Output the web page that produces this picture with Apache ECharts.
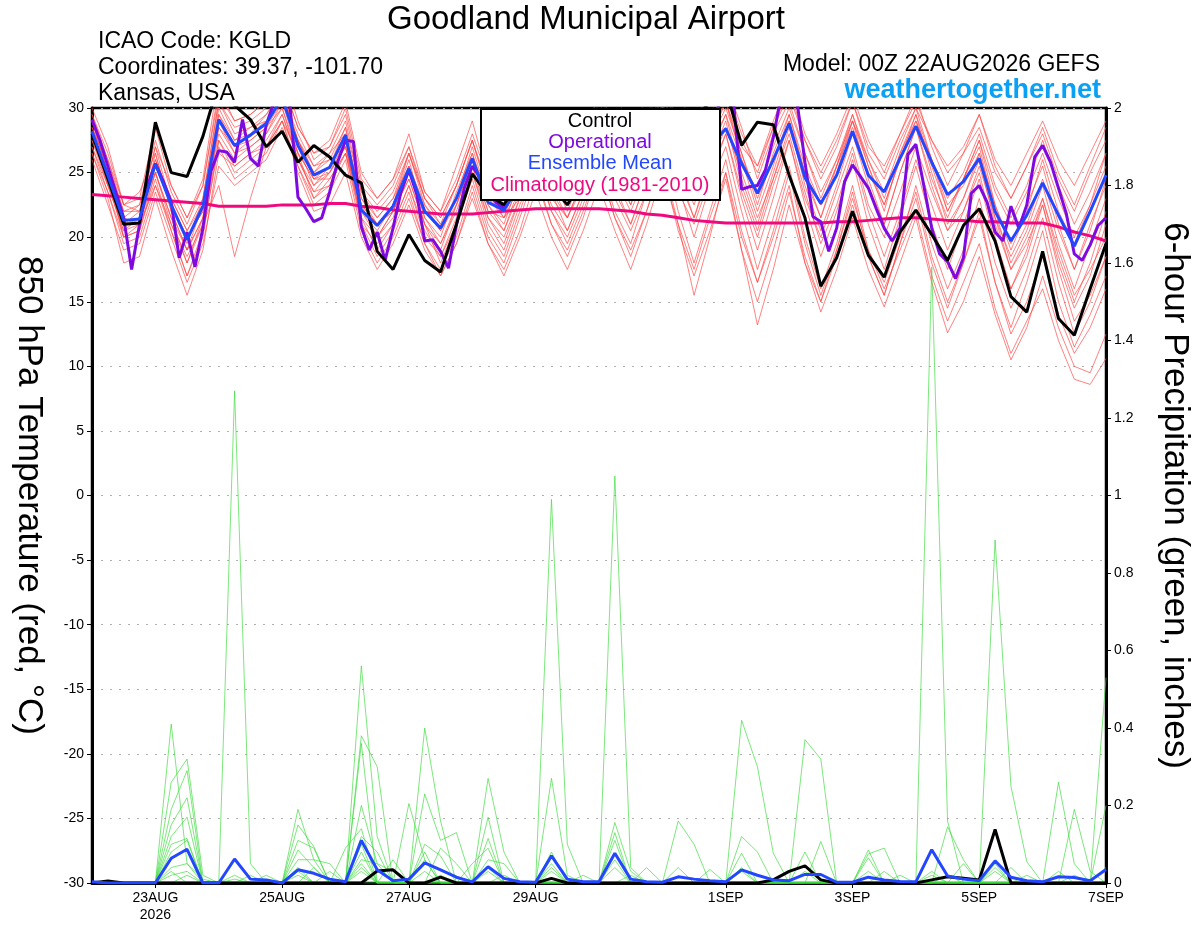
<!DOCTYPE html>
<html lang="en">
<head>
    <meta charset="UTF-8">
    <title>Goodland Municipal Airport</title>
    <script type="text/javascript" src="https://cdn.jsdelivr.net/npm/echarts@6.0.0/dist/echarts.min.js"></script>
    <style>
        html, body { margin: 0; padding: 0; background: #fff; }
        #chart { width: 1200px; height: 927px; }
    </style>
</head>
<body>
<div id="chart"></div>
<script>
    // x axis: forecast hour from 00Z 22AUG2026, 6-hourly (ensemble) or 3-hourly (operational)
    var tickHours = [24, 72, 120, 168, 240, 288, 336, 384];
    var tickLabels = ['23AUG\n2026', '25AUG', '27AUG', '29AUG', '1SEP', '3SEP', '5SEP', '7SEP'];

    // 850 hPa temperature, 6-hourly, 65 points
    var control = [
        28.0, 24.5, 21.0, 21.1, 28.9, 25.0, 24.7, 27.8,
        32.0, 30.2, 29.1, 27.0, 28.2, 25.8, 27.1, 26.2,
        24.8, 24.2, 18.9, 17.5, 20.2, 18.2, 17.3, 21.0,
        24.9, 23.3, 22.5, 24.5, 25.5, 24.0, 22.5, 24.5,
        25.5, 26.0, 25.0, 27.0, 28.0, 27.0, 29.0, 30.5,
        31.5, 27.1, 28.9, 28.7, 24.8, 21.5, 16.2, 18.4,
        22.0, 18.6, 16.9, 20.4, 22.1, 20.2, 18.2, 20.9,
        22.2, 19.7, 15.4, 14.2, 18.9, 13.7, 12.4, 16.0, 19.5
    ];
    var ensMean = [
        28.2, 24.8, 21.3, 21.4, 25.7, 22.5, 19.8, 22.4,
        29.1, 27.1, 27.9, 28.8, 30.8, 27.1, 24.8, 25.4,
        27.9, 22.1, 20.9, 22.4, 25.3, 22.0, 20.7, 23.0,
        26.1, 22.7, 22.1, 24.0, 26.5, 25.0, 24.0, 25.5,
        27.5, 26.5, 28.0, 27.0, 29.5, 27.5, 29.0, 27.0,
        28.4, 25.7, 23.4, 26.0, 28.8, 24.6, 22.6, 24.8,
        28.2, 24.8, 23.5, 26.1, 28.6, 25.8, 23.3, 24.3,
        26.1, 22.0, 19.7, 21.7, 24.2, 21.7, 19.3, 22.0, 24.8
    ];
    var climatology = [
        23.3, 23.2, 23.1, 23.0, 22.9, 22.8, 22.7, 22.6,
        22.4, 22.4, 22.4, 22.4, 22.5, 22.5, 22.5, 22.6,
        22.6, 22.4, 22.3, 22.1, 22.0, 21.9, 21.8, 21.8,
        21.8, 21.9, 22.0, 22.1, 22.2, 22.2, 22.2, 22.2,
        22.2, 22.1, 22.0, 21.8, 21.7, 21.5, 21.3, 21.2,
        21.1, 21.1, 21.1, 21.1, 21.1, 21.1, 21.1, 21.2,
        21.2, 21.3, 21.4, 21.5, 21.5, 21.4, 21.3, 21.3,
        21.2, 21.2, 21.1, 21.1, 21.1, 20.8, 20.4, 20.1, 19.7
    ];
    // operational run, 3-hourly, 129 points
    var operational = [
        29.1, 27.5, 25.5, 23.5, 21.5, 17.5, 21.0, 24.0,
        25.7, 24.3, 22.7, 18.4, 20.4, 17.7, 20.7, 25.1,
        26.7, 26.6, 25.8, 29.1, 26.1, 25.5, 28.7, 30.5,
        31.5, 30.2, 23.1, 22.2, 21.2, 21.5, 23.5, 25.8,
        27.5, 27.4, 20.8, 19.0, 20.4, 18.2, 20.7, 23.5,
        25.2, 23.3, 19.7, 19.8, 18.9, 17.6, 20.9, 23.8,
        25.5, 24.6, 23.3, 22.7, 22.2, 23.3, 24.5, 26.0,
        27.5, 28.5, 27.0, 25.0, 24.0, 25.0, 26.5, 28.0,
        29.5, 29.0, 27.5, 26.0, 25.0, 26.0, 27.5, 29.0,
        30.0, 29.5, 28.0, 26.5, 25.5, 27.0, 28.5, 30.0,
        31.5, 30.3, 23.7, 23.9, 24.0, 25.2, 27.7, 31.0,
        32.0, 30.5, 25.8, 21.6, 21.2, 18.9, 20.7, 24.3,
        25.6, 24.7, 23.8, 22.2, 20.7, 19.7, 20.7, 26.4,
        27.2, 24.0, 20.7, 18.7, 18.1, 16.8, 18.4, 23.4,
        24.0, 22.7, 20.4, 19.7, 22.4, 20.7, 22.5, 26.2,
        27.1, 25.8, 23.8, 21.8, 18.7, 18.2, 19.4, 20.9, 21.5
    ];

    // ensemble members, temperature
    var t01 = [
        29.5, 26.0, 22.0, 22.5, 27.5, 23.5, 21.0, 24.0,
        31.5, 29.0, 29.5, 30.5, 32.0, 28.5, 26.5, 27.0,
        29.5, 24.0, 22.5, 24.0, 27.0, 23.5, 22.0, 24.5,
        28.0, 24.5, 23.0, 26.0, 29.5, 27.5, 26.0, 28.0,
        31.0, 29.0, 31.5, 29.5, 32.0, 29.0, 31.5, 28.5,
        30.5, 27.0, 25.5, 28.5, 31.0, 27.5, 25.0, 27.5,
        30.5, 27.0, 25.5, 28.0, 30.5, 27.5, 25.0, 26.5,
        28.5, 25.0, 23.0, 25.5, 28.0, 24.5, 22.0, 25.0, 27.5
    ];
    var t02 = [
        27.0, 23.5, 19.5, 20.0, 24.0, 20.5, 17.0, 20.5,
        27.0, 24.5, 25.5, 26.5, 29.0, 25.0, 22.0, 22.5,
        25.0, 20.0, 17.5, 19.5, 22.5, 19.0, 17.0, 19.5,
        23.5, 19.5, 17.5, 20.5, 24.5, 21.0, 18.5, 21.5,
        25.5, 21.5, 18.5, 22.0, 26.0, 21.0, 17.5, 21.5,
        25.0, 20.0, 16.5, 20.5, 25.0, 19.5, 15.5, 19.0,
        23.5, 18.5, 15.5, 19.5, 23.0, 18.0, 14.5, 18.0,
        22.0, 16.5, 13.0, 16.5, 20.5, 15.0, 11.5, 14.0, 17.0
    ];
    var t03 = [
        28.5, 25.5, 21.0, 21.0, 26.5, 22.0, 19.0, 22.5,
        30.0, 27.5, 28.5, 29.5, 31.5, 27.0, 24.0, 25.5,
        28.5, 22.0, 20.5, 22.5, 26.0, 21.5, 20.0, 23.5,
        26.5, 22.5, 21.0, 24.5, 27.5, 24.5, 22.5, 26.0,
        28.5, 25.5, 22.5, 26.5, 30.0, 26.0, 23.5, 27.5,
        30.5, 26.5, 22.5, 26.5, 29.5, 25.0, 21.5, 25.0,
        29.0, 25.5, 22.0, 26.5, 29.0, 26.0, 22.5, 24.0,
        26.5, 21.5, 18.5, 21.0, 24.5, 20.5, 17.5, 21.0, 24.0
    ];
    var t04 = [
        28.0, 24.0, 20.5, 21.5, 25.5, 22.5, 20.0, 22.0,
        29.0, 26.5, 27.0, 28.0, 30.5, 26.5, 24.5, 25.0,
        27.0, 22.5, 21.0, 22.0, 24.5, 21.0, 19.5, 22.0,
        25.5, 22.0, 21.5, 23.0, 26.0, 23.5, 21.5, 24.0,
        27.0, 24.0, 21.0, 24.5, 28.0, 24.0, 20.0, 24.0,
        27.0, 22.0, 17.5, 21.5, 25.5, 20.0, 16.0, 19.5,
        24.0, 19.0, 16.0, 19.0, 22.0, 17.0, 13.5, 16.5,
        19.5, 14.5, 11.0, 13.5, 16.0, 12.0, 9.0, 8.6, 10.6
    ];
    var t05 = [
        29.0, 25.0, 21.5, 21.0, 26.0, 23.0, 20.5, 23.0,
        30.5, 28.0, 28.5, 29.0, 31.0, 28.0, 25.5, 26.5,
        28.0, 23.0, 21.5, 23.0, 26.5, 23.0, 21.5, 24.0,
        27.5, 24.0, 23.5, 25.0, 28.5, 26.0, 24.0, 26.5,
        29.5, 27.0, 25.0, 28.0, 31.0, 28.0, 25.5, 28.5,
        31.0, 27.5, 25.0, 28.5, 31.5, 27.5, 24.5, 27.0,
        30.5, 26.5, 24.5, 27.5, 30.0, 27.5, 25.5, 27.0,
        29.5, 26.0, 24.0, 26.5, 29.0, 26.0, 24.0, 26.5, 29.0
    ];
    var t06 = [
        27.5, 24.5, 21.0, 22.0, 25.0, 21.0, 18.5, 21.0,
        24.0, 18.5, 23.0, 27.0, 29.5, 26.0, 23.5, 24.0,
        26.5, 21.0, 19.5, 21.0, 24.0, 20.5, 18.5, 21.5,
        25.0, 21.0, 19.0, 22.5, 25.5, 22.0, 20.0, 23.0,
        26.5, 23.0, 20.5, 23.5, 27.5, 23.5, 21.0, 24.5,
        28.0, 23.5, 20.0, 24.0, 27.5, 23.0, 20.0, 23.5,
        27.0, 22.5, 20.0, 23.5, 27.0, 23.5, 20.5, 22.0,
        25.0, 20.0, 16.0, 18.5, 22.5, 18.0, 14.5, 17.0, 21.0
    ];
    var t07 = [
        26.0, 22.5, 19.0, 19.5, 23.5, 20.0, 16.5, 19.5,
        25.5, 24.0, 25.0, 26.0, 28.5, 25.5, 23.0, 24.5,
        26.5, 21.5, 20.0, 21.5, 25.0, 22.0, 20.5, 22.5,
        26.0, 22.0, 20.5, 24.0, 27.5, 24.0, 21.5, 24.5,
        28.5, 25.5, 23.0, 26.5, 30.5, 26.5, 23.0, 26.5,
        29.5, 24.5, 21.0, 25.0, 29.0, 24.0, 20.5, 24.0,
        28.0, 24.0, 21.0, 25.0, 28.5, 24.5, 21.5, 24.5,
        27.5, 22.5, 19.0, 22.0, 26.0, 22.0, 19.5, 22.5, 26.5
    ];
    var t08 = [
        29.5, 26.5, 22.5, 23.0, 28.5, 24.0, 21.5, 24.5,
        32.5, 30.0, 30.5, 31.0, 33.0, 29.0, 26.0, 27.0,
        30.0, 24.5, 23.0, 24.5, 28.0, 23.5, 22.0, 25.5,
        29.0, 24.5, 22.5, 25.5, 29.0, 25.5, 23.5, 27.0,
        30.5, 27.5, 24.0, 28.0, 31.5, 28.5, 25.5, 29.5,
        32.0, 28.5, 24.5, 28.0, 30.5, 26.5, 23.0, 26.0,
        29.0, 26.0, 23.0, 26.5, 29.5, 26.0, 22.0, 24.5,
        27.0, 22.0, 18.0, 20.5, 24.0, 19.5, 16.0, 19.5, 23.0
    ];
    var t09 = [
        28.0, 25.0, 20.0, 20.5, 25.0, 21.5, 18.0, 21.5,
        28.5, 26.5, 27.5, 28.5, 30.0, 26.5, 23.0, 24.0,
        27.5, 21.0, 18.5, 20.5, 23.5, 19.5, 17.5, 20.0,
        24.0, 20.0, 18.0, 21.5, 25.0, 21.0, 19.0, 22.0,
        25.5, 21.5, 19.0, 22.0, 25.5, 20.5, 17.0, 20.5,
        24.5, 19.0, 15.0, 19.0, 23.5, 18.5, 15.0, 18.5,
        22.5, 18.5, 15.5, 19.5, 24.0, 19.5, 16.0, 19.0,
        23.0, 18.0, 14.5, 17.5, 21.5, 16.5, 12.5, 15.0, 18.5
    ];
    var t10 = [
        27.5, 24.0, 21.5, 22.5, 26.0, 23.0, 20.5, 22.5,
        29.5, 27.5, 28.0, 29.0, 30.5, 27.5, 25.5, 26.0,
        28.5, 23.5, 21.5, 23.0, 25.5, 22.5, 21.0, 23.0,
        26.5, 23.0, 22.0, 25.0, 28.0, 25.0, 23.0, 25.5,
        29.0, 26.5, 24.5, 27.5, 30.0, 27.0, 24.0, 27.0,
        29.5, 26.0, 23.5, 27.0, 30.0, 26.5, 23.5, 26.0,
        29.5, 26.0, 23.5, 27.0, 30.0, 26.0, 23.0, 25.0,
        28.0, 24.0, 21.5, 24.0, 27.5, 24.0, 21.0, 23.5, 26.5
    ];
    var t11 = [
        26.5, 23.0, 18.0, 18.5, 23.0, 19.0, 15.5, 19.0,
        26.5, 25.5, 26.5, 27.5, 29.5, 26.0, 23.5, 25.0,
        27.5, 22.5, 20.0, 22.0, 25.5, 21.0, 19.0, 22.5,
        26.0, 22.5, 20.5, 23.5, 27.0, 23.5, 20.5, 23.5,
        27.0, 23.5, 21.0, 24.5, 28.5, 24.5, 21.5, 25.5,
        28.5, 25.0, 21.5, 24.5, 28.0, 23.5, 19.5, 22.5,
        26.5, 22.0, 18.5, 22.0, 26.0, 22.5, 19.0, 22.0,
        25.5, 21.5, 17.5, 20.0, 23.0, 19.0, 15.5, 17.5, 20.0
    ];
    var t12 = [
        28.5, 25.5, 22.0, 22.0, 27.0, 22.5, 19.5, 23.0,
        30.5, 28.5, 29.0, 30.0, 31.5, 27.5, 25.0, 26.0,
        27.0, 21.5, 19.0, 21.0, 24.0, 20.0, 18.5, 21.0,
        25.0, 21.5, 20.0, 23.0, 26.5, 23.0, 21.5, 24.5,
        28.0, 25.0, 22.5, 25.5, 29.0, 25.5, 22.5, 26.0,
        29.0, 24.0, 20.5, 24.5, 28.5, 24.5, 21.5, 25.5,
        29.5, 25.5, 22.5, 26.0, 29.5, 25.0, 21.0, 23.0,
        26.0, 21.0, 17.5, 19.5, 22.5, 17.5, 13.5, 15.5, 18.5
    ];
    var t13 = [
        29.0, 25.0, 21.0, 21.5, 25.5, 22.5, 20.0, 22.0,
        29.5, 27.0, 27.5, 28.5, 30.5, 27.5, 25.0, 26.5,
        29.0, 23.5, 22.0, 23.5, 26.5, 22.5, 20.5, 23.0,
        27.0, 23.0, 21.5, 24.0, 27.5, 24.5, 22.5, 25.0,
        28.0, 25.0, 23.0, 26.0, 29.5, 26.5, 24.5, 28.0,
        30.5, 26.0, 22.0, 25.5, 29.5, 25.5, 22.5, 25.5,
        29.0, 24.5, 21.0, 25.0, 28.5, 24.0, 20.5, 23.0,
        26.5, 22.5, 19.5, 22.5, 25.5, 21.0, 17.5, 20.5, 24.5
    ];
    var t14 = [
        27.0, 24.0, 20.5, 21.0, 25.0, 21.5, 19.0, 21.5,
        28.0, 26.0, 27.0, 28.0, 30.0, 26.0, 24.0, 25.0,
        27.0, 22.0, 20.0, 22.0, 25.5, 21.5, 19.5, 22.5,
        25.5, 21.5, 19.5, 23.0, 26.0, 22.0, 19.5, 22.5,
        26.0, 22.0, 19.5, 23.5, 27.0, 22.0, 18.0, 22.0,
        26.0, 20.5, 16.5, 20.0, 24.0, 18.0, 14.2, 17.5,
        21.5, 17.5, 14.6, 18.0, 21.5, 16.5, 12.6, 15.0,
        18.5, 14.0, 10.5, 13.0, 17.0, 13.0, 10.0, 9.5, 12.5
    ];
    var t15 = [
        30.0, 27.0, 22.5, 22.0, 27.0, 24.0, 21.5, 24.0,
        31.0, 29.0, 29.5, 30.5, 32.0, 28.5, 26.5, 27.5,
        30.5, 25.0, 23.0, 24.5, 27.0, 23.0, 21.0, 24.0,
        27.5, 23.5, 22.0, 25.5, 29.0, 26.0, 24.5, 27.5,
        31.0, 28.5, 26.0, 29.0, 32.0, 28.5, 26.0, 29.0,
        31.5, 28.0, 25.5, 29.0, 32.0, 28.0, 25.5, 28.0,
        31.0, 27.5, 25.0, 28.0, 31.0, 27.0, 24.0, 26.5,
        29.5, 25.5, 23.0, 25.5, 28.5, 25.0, 22.5, 25.5, 28.5
    ];
    var t16 = [
        28.0, 24.5, 20.0, 20.5, 24.5, 20.5, 17.0, 20.0,
        27.5, 25.0, 26.0, 27.0, 29.0, 25.5, 22.5, 23.5,
        26.0, 20.5, 18.0, 20.0, 23.0, 19.5, 17.0, 19.5,
        23.0, 19.5, 17.0, 20.0, 23.5, 20.0, 17.5, 20.5,
        24.0, 20.5, 17.5, 21.0, 25.0, 21.0, 15.5, 20.0,
        25.0, 19.0, 13.2, 17.5, 22.5, 18.0, 15.0, 19.0,
        23.0, 19.0, 16.5, 20.0, 23.5, 18.5, 15.0, 18.0,
        21.5, 16.5, 12.5, 15.0, 18.5, 14.0, 11.0, 13.0, 16.0
    ];
    var t17 = [
        29.0, 26.0, 22.5, 23.5, 26.5, 22.0, 19.0, 21.5,
        28.5, 27.0, 28.0, 29.5, 31.0, 27.5, 24.5, 24.5,
        26.5, 22.5, 21.0, 22.0, 24.5, 21.0, 18.0, 21.0,
        24.5, 20.5, 18.5, 22.0, 25.5, 22.5, 20.5, 23.5,
        27.5, 24.5, 22.0, 25.0, 29.0, 25.0, 21.5, 25.0,
        28.0, 23.0, 19.0, 23.0, 27.5, 22.5, 18.5, 22.0,
        26.0, 21.0, 17.5, 21.5, 25.5, 21.0, 17.5, 21.0,
        24.5, 19.5, 16.0, 19.0, 23.0, 18.5, 15.0, 18.0, 22.0
    ];
    var t18 = [
        26.5, 23.5, 20.0, 21.0, 24.0, 21.0, 18.0, 21.0,
        27.5, 25.5, 26.5, 27.0, 29.0, 26.5, 24.5, 25.5,
        28.0, 23.0, 21.0, 22.5, 26.5, 23.0, 21.5, 24.0,
        27.5, 23.5, 21.5, 25.0, 28.5, 25.0, 22.0, 25.0,
        29.0, 26.0, 23.5, 27.0, 31.0, 27.5, 24.5, 27.5,
        30.0, 26.5, 23.0, 26.0, 29.0, 25.0, 22.5, 25.5,
        28.5, 25.0, 22.5, 26.0, 29.0, 25.5, 22.0, 24.5,
        27.5, 23.5, 21.0, 23.5, 26.5, 23.0, 20.0, 22.5, 25.5
    ];
    var tempMembers = [t01, t02, t03, t04, t05, t06, t07, t08, t09, t10, t11, t12, t13, t14, t15, t16, t17, t18];

    // 6-hour precipitation, inches
    var precipMean = [
        0.003, 0, 0, 0, 0, 0.064, 0.087, 0,
        0, 0.062, 0.01, 0.008, 0, 0.034, 0.025, 0.01,
        0.003, 0.11, 0.034, 0.006, 0.01, 0.052, 0.034, 0.015,
        0.003, 0.042, 0.012, 0.003, 0.002, 0.07, 0.01, 0.003,
        0.003, 0.077, 0.01, 0.003, 0.002, 0.016, 0.01, 0.006,
        0.003, 0.034, 0.02, 0.008, 0.006, 0.022, 0.022, 0.002,
        0.002, 0.015, 0.008, 0.004, 0.003, 0.086, 0.018, 0.01,
        0.006, 0.057, 0.015, 0.006, 0.003, 0.016, 0.014, 0.006, 0.035
    ];
    var precipControl = [
        0, 0.005, 0, 0, 0, 0, 0, 0,
        0, 0, 0, 0, 0, 0, 0, 0,
        0, 0, 0.031, 0.034, 0, 0, 0.015, 0,
        0, 0, 0, 0, 0, 0.012, 0, 0,
        0, 0, 0, 0, 0, 0, 0, 0,
        0, 0, 0, 0.008, 0.03, 0.044, 0.008, 0,
        0, 0, 0, 0, 0, 0.008, 0.016, 0.012,
        0.008, 0.138, 0, 0, 0, 0, 0, 0, 0
    ];
    var p01 = [
        0, 0, 0, 0, 0, 0.41, 0.05, 0.01,
        0, 0, 0, 0, 0, 0, 0, 0,
        0, 0.20, 0.05, 0, 0, 0, 0, 0,
        0, 0, 0, 0, 0, 0.99, 0.10, 0,
        0, 0, 0, 0, 0, 0, 0, 0,
        0, 0, 0, 0, 0, 0, 0, 0,
        0, 0, 0, 0, 0, 1.59, 0.16, 0,
        0, 0, 0, 0, 0, 0, 0, 0, 0.2
    ];
    var p02 = [
        0, 0, 0, 0, 0, 0.26, 0.32, 0.02,
        0, 1.27, 0.05, 0, 0, 0, 0, 0,
        0, 0.56, 0.12, 0, 0, 0, 0, 0,
        0, 0, 0, 0, 0, 0, 0, 0,
        0, 0, 0, 0, 0, 0, 0, 0,
        0, 0.42, 0.30, 0.077, 0, 0, 0, 0,
        0, 0, 0, 0, 0, 0, 0, 0,
        0, 0.05, 0, 0, 0, 0, 0, 0, 0
    ];
    var p03 = [
        0, 0, 0, 0, 0, 0.19, 0.29, 0,
        0, 0, 0, 0, 0, 0.19, 0.06, 0,
        0, 0.38, 0.30, 0, 0, 0, 0, 0,
        0, 0, 0, 0, 0, 0, 0, 0,
        0, 1.05, 0.04, 0, 0, 0, 0, 0,
        0, 0, 0, 0, 0, 0, 0, 0,
        0, 0, 0, 0, 0, 0, 0, 0,
        0, 0.885, 0.25, 0.055, 0, 0, 0, 0, 0
    ];
    var p04 = [
        0, 0, 0, 0, 0, 0.15, 0.22, 0,
        0, 0, 0, 0, 0, 0.15, 0.094, 0,
        0, 0.36, 0, 0, 0, 0.40, 0.16, 0,
        0, 0, 0, 0, 0, 0, 0, 0,
        0, 0, 0, 0, 0, 0, 0, 0,
        0, 0, 0, 0, 0, 0.37, 0.32, 0,
        0, 0, 0, 0, 0, 0, 0, 0,
        0, 0, 0, 0, 0, 0.26, 0.05, 0, 0
    ];
    var p05 = [
        0, 0, 0, 0, 0, 0.12, 0.17, 0,
        0, 0, 0, 0, 0, 0, 0, 0,
        0.09, 0.14, 0, 0, 0.205, 0.06, 0, 0,
        0, 0.27, 0.08, 0, 0, 0, 0, 0,
        0, 0, 0, 0, 0, 0.16, 0.10, 0,
        0, 0, 0, 0, 0, 0, 0, 0,
        0, 0, 0, 0, 0, 0, 0, 0,
        0, 0, 0, 0, 0, 0, 0, 0, 0.53
    ];
    var p06 = [
        0, 0, 0, 0, 0, 0.10, 0.115, 0,
        0, 0, 0, 0, 0, 0.11, 0.09, 0,
        0, 0, 0, 0, 0, 0.23, 0.11, 0.13,
        0, 0, 0, 0, 0, 0.27, 0.02, 0,
        0, 0, 0, 0, 0, 0, 0, 0,
        0, 0, 0, 0, 0, 0, 0, 0,
        0, 0.085, 0, 0, 0, 0, 0, 0,
        0, 0, 0, 0, 0, 0, 0.19, 0.03, 0
    ];
    var p07 = [
        0, 0, 0, 0, 0, 0.08, 0.11, 0,
        0, 0, 0, 0, 0, 0, 0, 0,
        0, 0.12, 0.08, 0, 0, 0, 0.09, 0.05,
        0, 0.17, 0, 0, 0, 0, 0, 0,
        0, 0.156, 0.03, 0, 0, 0, 0, 0,
        0, 0.12, 0.08, 0, 0, 0, 0, 0,
        0, 0, 0, 0, 0, 0, 0.145, 0.06,
        0, 0, 0, 0, 0, 0, 0, 0, 0
    ];
    var p08 = [
        0, 0, 0, 0, 0, 0.06, 0.09, 0,
        0, 0, 0, 0, 0, 0.085, 0.04, 0,
        0, 0.10, 0, 0, 0, 0.10, 0.07, 0,
        0, 0.115, 0, 0, 0, 0, 0, 0,
        0, 0.13, 0, 0, 0, 0, 0, 0,
        0, 0, 0, 0, 0, 0, 0.107, 0,
        0, 0.075, 0.09, 0, 0, 0, 0, 0,
        0, 0, 0, 0, 0, 0, 0, 0, 0
    ];
    var p09 = [
        0, 0, 0, 0, 0, 0.04, 0.05, 0,
        0, 0, 0.02, 0, 0, 0.06, 0.06, 0.05,
        0, 0.08, 0, 0.06, 0, 0, 0, 0,
        0.05, 0.09, 0, 0, 0, 0, 0, 0,
        0, 0.11, 0, 0, 0, 0, 0, 0,
        0, 0.077, 0, 0, 0, 0, 0, 0,
        0, 0, 0, 0, 0, 0, 0, 0.05,
        0, 0, 0.04, 0, 0, 0, 0, 0, 0
    ];
    var p10 = [
        0, 0, 0, 0, 0, 0.02, 0.03, 0,
        0, 0, 0, 0, 0, 0.04, 0, 0.03,
        0, 0.06, 0.05, 0.03, 0, 0.08, 0, 0,
        0, 0.06, 0.05, 0, 0, 0.08, 0, 0,
        0, 0, 0, 0.04, 0, 0, 0, 0,
        0, 0, 0, 0, 0, 0.08, 0, 0,
        0, 0.065, 0, 0, 0, 0, 0, 0,
        0, 0.03, 0, 0, 0, 0, 0, 0, 0
    ];
    var p11 = [
        0, 0, 0, 0, 0, 0, 0.02, 0,
        0, 0.02, 0, 0.02, 0, 0, 0.04, 0,
        0, 0.05, 0, 0, 0, 0.06, 0, 0,
        0, 0.03, 0, 0, 0, 0.05, 0, 0.02,
        0, 0.06, 0, 0, 0, 0, 0, 0.035,
        0, 0, 0, 0, 0, 0, 0, 0,
        0, 0, 0, 0.02, 0, 0.03, 0, 0,
        0, 0, 0, 0, 0, 0, 0.02, 0, 0
    ];
    var p12 = [
        0, 0, 0, 0, 0, 0, 0, 0,
        0, 0.01, 0, 0, 0, 0.02, 0, 0,
        0, 0.03, 0, 0, 0, 0, 0.02, 0,
        0, 0, 0.02, 0, 0, 0.03, 0, 0,
        0, 0, 0.02, 0, 0, 0.04, 0, 0,
        0, 0.03, 0, 0, 0, 0, 0, 0,
        0, 0, 0.03, 0, 0, 0, 0.02, 0,
        0, 0, 0, 0.02, 0, 0, 0, 0, 0.04
    ];
    var p13 = [
        0, 0, 0, 0, 0, 0.03, 0, 0,
        0, 0, 0, 0, 0, 0.03, 0, 0,
        0, 0.04, 0, 0, 0, 0.03, 0, 0,
        0, 0.04, 0, 0, 0, 0.04, 0, 0,
        0, 0.04, 0, 0, 0, 0, 0, 0,
        0, 0.04, 0, 0, 0, 0.03, 0, 0,
        0, 0.03, 0, 0, 0, 0.02, 0, 0,
        0, 0.04, 0, 0, 0, 0.03, 0, 0, 0
    ];
    var precipMembers = [p01, p02, p03, p04, p05, p06, p07, p08, p09, p10, p11, p12, p13];

    var FONT = '"Liberation Sans", Arial, Helvetica, sans-serif';

    function pairs(arr, step) {
        return arr.map(function (v, i) { return [i * step, v]; });
    }

    function thinLine(data, axis, color) {
        return {
            type: 'line', yAxisIndex: axis, data: data, showSymbol: false, silent: true,
            lineStyle: {color: color, width: 0.8, opacity: 0.85}, z: 2
        };
    }

    function thickLine(data, axis, color, z) {
        return {
            type: 'line', yAxisIndex: axis, data: data, showSymbol: false, silent: true,
            lineStyle: {color: color, width: 3}, z: z
        };
    }

    var series = [];
    tempMembers.forEach(function (m) {
        series.push(thinLine(pairs(m, 6), 0, '#ff4545'));
    });
    precipMembers.forEach(function (m) {
        series.push(thinLine(pairs(m, 6), 1, '#3ddc3d'));
    });
    series.push(thickLine(pairs(climatology, 6), 0, '#ee0a7e', 3));
    series.push(thickLine(pairs(operational, 3), 0, '#7f0ae0', 4));
    series.push(thickLine(pairs(control, 6), 0, '#000000', 5));
    series.push(thickLine(pairs(ensMean, 6), 0, '#2346ff', 6));
    series.push(thickLine(pairs(precipControl, 6), 1, '#000000', 5));
    series.push(thickLine(pairs(precipMean, 6), 1, '#2346ff', 6));

    var legendFont = '20px ' + FONT;

    var mychart = echarts.init(document.getElementById('chart'));
    var option = {
        animation: false,
        backgroundColor: '#ffffff',
        textStyle: {fontFamily: FONT},
        title: [
            {
                text: 'Goodland Municipal Airport', left: 586, top: 3, textAlign: 'center', padding: 0,
                textStyle: {fontSize: 33, fontWeight: 'normal', color: '#000', fontFamily: FONT}
            },
            {
                text: 'ICAO Code: KGLD\nCoordinates: 39.37, -101.70\nKansas, USA', left: 98, top: 29, padding: 0,
                textStyle: {fontSize: 23, fontWeight: 'normal', color: '#000', lineHeight: 26, fontFamily: FONT}
            },
            {
                text: 'Model: 00Z 22AUG2026 GEFS', right: 100, top: 53, padding: 0,
                textStyle: {fontSize: 23, fontWeight: 'normal', color: '#000', fontFamily: FONT}
            },
            {
                text: 'weathertogether.net', right: 99, top: 77, padding: 0,
                textStyle: {fontSize: 27, fontWeight: 'bold', color: '#0aa0f5', fontFamily: FONT}
            }
        ],
        grid: {
            left: 92, right: 94, top: 108, bottom: 44, outerBoundsMode: 'none',
            show: true, borderColor: '#000', borderWidth: 2.5, backgroundColor: 'transparent'
        },
        xAxis: {
            type: 'value', min: 0, max: 384,
            axisLine: {show: true, onZero: false, lineStyle: {color: '#000', width: 3}},
            axisTick: {show: true, customValues: tickHours, length: 5, lineStyle: {color: '#000', width: 1}},
            axisLabel: {
                customValues: tickHours, color: '#000', fontSize: 14, margin: 7, lineHeight: 17,
                formatter: function (v) {
                    var k = tickHours.indexOf(v);
                    return k >= 0 ? tickLabels[k] : '';
                }
            },
            splitLine: {show: false}
        },
        yAxis: [
            {
                type: 'value', min: -30, max: 30, interval: 5, position: 'left',
                name: '850 hPa Temperature (red, \u00b0C)', nameLocation: 'middle', nameRotate: -90, nameGap: 46,
                nameTextStyle: {fontSize: 35, color: '#000'},
                axisLine: {show: true, lineStyle: {color: '#000', width: 3}},
                axisTick: {show: true, length: 5, lineStyle: {color: '#000'}},
                axisLabel: {color: '#000', fontSize: 14, margin: 8},
                splitLine: {show: true, lineStyle: {color: '#b0b0b0', width: 1.2, type: [2, 7]}}
            },
            {
                type: 'value', min: 0, max: 2, interval: 0.2, position: 'right',
                name: '6-hour Precipitation (green, inches)', nameLocation: 'middle', nameRotate: -90, nameGap: 51,
                nameTextStyle: {fontSize: 35, color: '#000'},
                axisLine: {show: true, lineStyle: {color: '#000', width: 3}},
                axisTick: {show: true, length: 5, lineStyle: {color: '#000'}},
                axisLabel: {color: '#000', fontSize: 14, margin: 8},
                splitLine: {show: false}
            }
        ],
        // legend box drawn over the lines, like the original plot
        graphic: [
            {type: 'rect', left: 480, top: 108, z: 100, shape: {x: 0, y: 0, width: 239, height: 91},
                style: {fill: '#fff', stroke: '#000', lineWidth: 2}},
            {type: 'text', x: 600, y: 121, z: 101, style: {text: 'Control', fill: '#000', font: legendFont, textAlign: 'center', textVerticalAlign: 'middle'}},
            {type: 'text', x: 600, y: 142, z: 101, style: {text: 'Operational', fill: '#7f0ae0', font: legendFont, textAlign: 'center', textVerticalAlign: 'middle'}},
            {type: 'text', x: 600, y: 163, z: 101, style: {text: 'Ensemble Mean', fill: '#2346ff', font: legendFont, textAlign: 'center', textVerticalAlign: 'middle'}},
            {type: 'text', x: 600, y: 185, z: 101, style: {text: 'Climatology (1981-2010)', fill: '#ee0a7e', font: legendFont, textAlign: 'center', textVerticalAlign: 'middle'}}
        ],
        series: series
    };
    mychart.setOption(option);
</script>
</body>
</html>
